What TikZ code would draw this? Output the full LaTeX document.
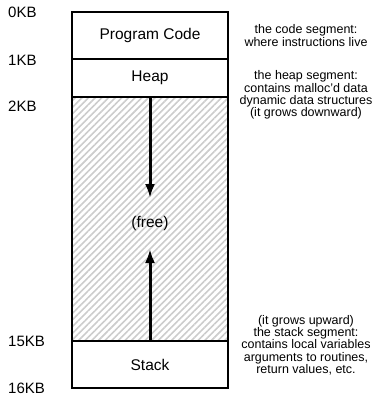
\documentclass[tikz,border=0pt]{standalone}
\usepackage{fontspec}
\setmainfont{Liberation Sans}
\usetikzlibrary{positioning,arrows.meta,patterns.meta}

\tikzset{
  seg/.style={draw, line width=1.5pt, minimum width=156pt, inner sep=0pt, outer sep=0pt, font=\fontsize{15.5}{18}\selectfont},
  kb/.style={anchor=west, inner sep=0pt, font=\fontsize{15}{18}\selectfont},
  note/.style={align=center, inner sep=0pt, font=\fontsize{12.5}{12.3}\selectfont},
  growarrow/.style={line width=3pt, -{Latex[length=14pt,width=10pt]}}
}

\begin{document}
\begin{tikzpicture}[x=1pt, y=-1pt]
            \useasboundingbox (0,0) rectangle (373,399);

            \node[seg, minimum height=47pt, anchor=north west] (code) at (72,12) {Program Code};
            \node[seg, minimum height=38pt, below=0pt of code] (heap) {Heap};
            \node[seg, minimum height=244pt, below=0pt of heap,
                  pattern={Lines[angle=45,distance=4.7pt,line width=1.6pt]}, pattern color=gray!40] (free) {};
            \node[seg, minimum height=47pt, below=0pt of free] (stack) {Stack};

            \node[font=\fontsize{15.5}{18}\selectfont, inner sep=0pt] (freelbl) at (150,223) {(free)};

            \coordinate (downtip) at (150,198);
            \coordinate (uptip) at (150,249);
            \draw[growarrow] (free.north) -- (downtip);
            \draw[growarrow] (free.south) -- (uptip);

            \node[kb] (kb0) at (8,12.8) {0KB};
            \node[kb] (kb1) at (8,60.5) {1KB};
            \node[kb] (kb2) at (8,106.5) {2KB};
            \node[kb] (kb15) at (8,341.7) {15KB};
            \node[kb] (kb16) at (8,388.7) {16KB};

            \node[note] (codenote) at (306,35.5) {the code segment:\\where instructions live};
            \node[note] (heapnote) at (306,95) {the heap segment:\\contains malloc'd data\\dynamic data structures\\(it grows downward)};
            \node[note] (stacknote) at (306,345) {(it grows upward)\\the stack segment:\\contains local variables\\arguments to routines,\\return values, etc.};
        \end{tikzpicture}
\end{document}
